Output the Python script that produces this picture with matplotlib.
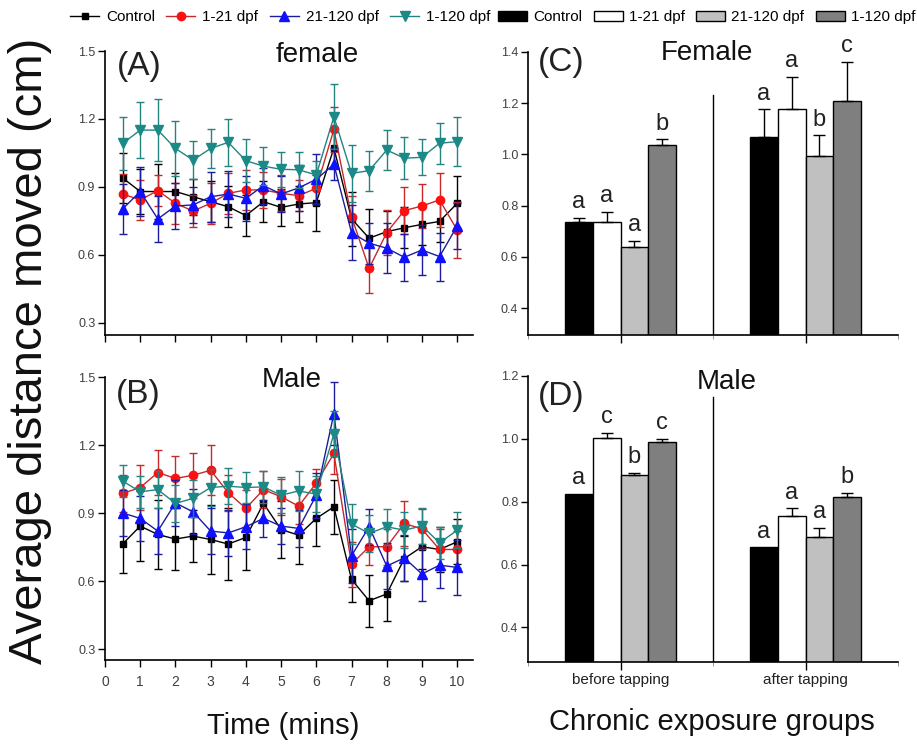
import matplotlib
matplotlib.use("Agg")
import matplotlib.pyplot as plt
from matplotlib.lines import Line2D
from matplotlib.patches import Patch
import numpy as np

plt.rcParams['font.family'] = ['Liberation Sans', 'DejaVu Sans']

# ---------------- data ----------------
time = [0.5, 1, 1.5, 2, 2.5, 3, 3.5, 4, 4.5, 5, 5.5, 6, 6.5, 7, 7.5, 8, 8.5, 9, 9.5, 10]
series_names = ["Control", "1-21 dpf", "21-120 dpf", "1-120 dpf"]

A_ctrl = [0.94, 0.88, 0.88, 0.88, 0.857, 0.835, 0.813, 0.774, 0.835, 0.81, 0.825, 0.831, 1.072, 0.76, 0.674, 0.703, 0.72, 0.735, 0.748, 0.828]
A_ctrl_err = [0.11, 0.1, 0.12, 0.08, 0.08, 0.09, 0.09, 0.09, 0.09, 0.08, 0.08, 0.123, 0.09, 0.12, 0.128, 0.09, 0.09, 0.09, 0.09, 0.12]
A_d121 = [0.869, 0.843, 0.884, 0.828, 0.794, 0.828, 0.872, 0.887, 0.887, 0.872, 0.862, 0.894, 1.154, 0.769, 0.541, 0.699, 0.796, 0.816, 0.843, 0.71]
A_d121_err = [0.09, 0.09, 0.07, 0.09, 0.07, 0.09, 0.09, 0.09, 0.08, 0.08, 0.07, 0.07, 0.1, 0.09, 0.107, 0.1, 0.103, 0.096, 0.12, 0.125]
A_d21120 = [0.803, 0.88, 0.759, 0.816, 0.821, 0.857, 0.869, 0.85, 0.906, 0.869, 0.896, 0.934, 1.0, 0.699, 0.652, 0.63, 0.59, 0.622, 0.593, 0.728]
A_d21120_err = [0.11, 0.11, 0.1, 0.1, 0.08, 0.11, 0.1, 0.1, 0.08, 0.08, 0.1, 0.11, 0.07, 0.12, 0.09, 0.11, 0.103, 0.11, 0.106, 0.1]
A_d1120 = [1.092, 1.151, 1.151, 1.07, 1.019, 1.07, 1.097, 1.016, 0.992, 0.978, 0.976, 0.953, 1.21, 0.96, 0.972, 1.063, 1.027, 1.031, 1.093, 1.1]
A_d1120_err = [0.115, 0.125, 0.136, 0.12, 0.085, 0.085, 0.105, 0.095, 0.085, 0.078, 0.08, 0.06, 0.144, 0.125, 0.088, 0.09, 0.093, 0.08, 0.091, 0.107]

B_ctrl = [0.764, 0.843, 0.806, 0.786, 0.799, 0.784, 0.764, 0.793, 0.943, 0.828, 0.803, 0.877, 0.928, 0.608, 0.514, 0.544, 0.70, 0.752, 0.74, 0.774]
B_ctrl_err = [0.126, 0.153, 0.154, 0.135, 0.114, 0.153, 0.16, 0.142, 0.08, 0.125, 0.128, 0.12, 0.12, 0.1, 0.115, 0.12, 0.1, 0.1, 0.1, 0.1]
B_d121 = [0.987, 1.013, 1.079, 1.053, 1.067, 1.089, 0.99, 0.921, 1.004, 0.972, 0.931, 1.033, 1.163, 0.675, 0.752, 0.752, 0.855, 0.83, 0.74, 0.74]
B_d121_err = [0.08, 0.1, 0.1, 0.1, 0.1, 0.11, 0.08, 0.08, 0.08, 0.08, 0.08, 0.06, 0.09, 0.1, 0.08, 0.08, 0.1, 0.09, 0.09, 0.08]
B_d21120 = [0.901, 0.877, 0.821, 0.945, 0.906, 0.821, 0.813, 0.84, 0.877, 0.843, 0.833, 0.979, 1.339, 0.712, 0.84, 0.667, 0.703, 0.632, 0.671, 0.661]
B_d21120_err = [0.1, 0.1, 0.1, 0.1, 0.1, 0.1, 0.1, 0.1, 0.08, 0.08, 0.08, 0.1, 0.14, 0.12, 0.08, 0.1, 0.1, 0.12, 0.1, 0.12]
B_d1120 = [1.042, 0.994, 1.004, 0.943, 0.965, 1.013, 1.019, 1.013, 1.016, 0.979, 0.998, 0.984, 1.25, 0.852, 0.811, 0.84, 0.825, 0.844, 0.769, 0.825]
B_d1120_err = [0.07, 0.07, 0.08, 0.08, 0.08, 0.08, 0.08, 0.07, 0.07, 0.08, 0.09, 0.08, 0.1, 0.09, 0.08, 0.08, 0.08, 0.08, 0.07, 0.08]

phases = ["before tapping", "after tapping"]
C_means = {"before tapping": [0.735, 0.735, 0.640, 1.036], "after tapping": [1.069, 1.175, 0.994, 1.209]}
C_errs = {"before tapping": [0.018, 0.04, 0.022, 0.022], "after tapping": [0.106, 0.128, 0.08, 0.152]}
C_letters = {"before tapping": ["a", "a", "a", "b"], "after tapping": ["a", "a", "b", "c"]}
D_means = {"before tapping": [0.824, 1.004, 0.884, 0.991], "after tapping": [0.655, 0.754, 0.689, 0.816]}
D_errs = {"before tapping": [0.0, 0.014, 0.008, 0.008], "after tapping": [0.0, 0.025, 0.028, 0.013]}
D_letters = {"before tapping": ["a", "c", "b", "c"], "after tapping": ["a", "a", "a", "b"]}

# ---------------- styles ----------------
line_colors = ["#000000", "#c42a2a", "#1c1c9c", "#24837f"]
marker_colors = ["#000000", "#ff1010", "#1010ff", "#1b8a86"]
markers = ["s", "o", "^", "v"]
msizes = [5, 6, 6.5, 6.5]
bar_colors = ["#000000", "#ffffff", "#c0c0c0", "#7f7f7f"]
tick_col = "#404040"

W, H = 917, 745
fig = plt.figure(figsize=(W / 100, H / 100), dpi=100)


def ax_rect(l, r, t, b):
    return [l / W, 1 - b / H, (r - l) / W, (b - t) / H]


def style_axes(ax):
    for s in ["top", "right"]:
        ax.spines[s].set_visible(False)
    for s in ["left", "bottom"]:
        ax.spines[s].set_linewidth(1.2)
    ax.tick_params(axis="both", direction="out", length=5, width=1.0,
                   labelsize=9, labelcolor=tick_col, pad=2)


def line_panel(ax, data, ylim, show_xlabels):
    for i, (vals, errs) in enumerate(data):
        ax.errorbar(time, vals, yerr=errs, color=line_colors[i], lw=1.0,
                    elinewidth=1.0, capsize=3, capthick=1.0,
                    marker=markers[i], ms=msizes[i], mfc=marker_colors[i],
                    mec=marker_colors[i], zorder=2 + i)
    ax.set_xlim(0, 10.45)
    ax.set_ylim(*ylim)
    ax.set_yticks([0.3, 0.6, 0.9, 1.2, 1.5])
    ax.set_yticklabels(["0.3", "0.6", "0.9", "1.2", "1.5"])
    ax.set_xticks(range(0, 11))
    if not show_xlabels:
        ax.set_xticklabels([])
    style_axes(ax)
    ax.tick_params(axis="x", labelsize=10, pad=6)


axA = fig.add_axes(ax_rect(105, 473, 51, 335))
line_panel(axA, [(A_ctrl, A_ctrl_err), (A_d121, A_d121_err),
                 (A_d21120, A_d21120_err), (A_d1120, A_d1120_err)], (0.247, 1.5), False)
axB = fig.add_axes(ax_rect(105, 473, 377, 660))
line_panel(axB, [(B_ctrl, B_ctrl_err), (B_d121, B_d121_err),
                 (B_d21120, B_d21120_err), (B_d1120, B_d1120_err)], (0.253, 1.5), True)


def bar_panel(ax, means, errs, letters, ylim, yticks, sep_top, show_xlabels):
    width = 0.15
    offs = [-1.5, -0.5, 0.5, 1.5]
    centers = [0.5, 1.5]
    for g, ph in enumerate(phases):
        for k in range(4):
            x = centers[g] + offs[k] * width
            ax.bar(x, means[ph][k], width=width, color=bar_colors[k],
                   edgecolor="black", linewidth=1.0, zorder=2)
            e = errs[ph][k]
            if e > 0:
                ax.errorbar(x, means[ph][k], yerr=[[0], [e]], color="black",
                            lw=1.0, capsize=4, capthick=1.0, fmt="none", zorder=3)
            ax.annotate(letters[ph][k], (x, means[ph][k] + e), xytext=(0, 7),
                        textcoords="offset points", ha="center", va="baseline",
                        fontsize=17, color="#222222")
    ax.plot([1, 1], [ylim[0], sep_top], color="black", lw=1.0, zorder=1)
    ax.set_xlim(0, 2)
    ax.set_ylim(*ylim)
    ax.set_yticks(yticks)
    ax.set_yticklabels([f"{v:.1f}" for v in yticks])
    ax.set_xticks(centers)
    ax.set_xticks([0, 1, 2], minor=True)
    style_axes(ax)
    ax.tick_params(axis="x", which="minor", length=3, width=0.6, color="#888888")
    ax.tick_params(axis="x", which="major", length=6)
    if show_xlabels:
        ax.set_xticklabels(phases, fontsize=11, color="#222222")
    else:
        ax.set_xticklabels([])


axC = fig.add_axes(ax_rect(528, 898, 51.7, 335))
bar_panel(axC, C_means, C_errs, C_letters, (0.296, 1.4), [0.4, 0.6, 0.8, 1.0, 1.2, 1.4], 1.231, False)
axD = fig.add_axes(ax_rect(528, 898, 376, 661.7))
bar_panel(axD, D_means, D_errs, D_letters, (0.291, 1.2), [0.4, 0.6, 0.8, 1.0, 1.2], 1.134, True)

# ---------------- panel texts ----------------
def ftext(x, y, s, size, **kw):
    fig.text(x / W, 1 - y / H, s, fontsize=size, ha="center", va="center", **kw)

ftext(139, 67, "(A)", 24, color="#222222")
ftext(317, 55, "female", 20, color="#111111")
ftext(138, 394, "(B)", 24, color="#222222")
ftext(292, 380, "Male", 20, color="#111111")
ftext(561, 63, "(C)", 24, color="#222222")
ftext(707, 53, "Female", 20, color="#111111")
ftext(561, 397, "(D)", 24, color="#222222")
ftext(727, 382, "Male", 20, color="#111111")

ftext(30, 351, "Average distance moved (cm)", 34, rotation=90, color="#111111")
ftext(283, 726, "Time (mins)", 21, color="#111111")
ftext(712, 722, "Chronic exposure groups", 21, color="#111111")

# ---------------- legends ----------------
line_handles = [Line2D([0], [0], color=line_colors[i], lw=1.0, marker=markers[i],
                       ms=msizes[i], mfc=marker_colors[i], mec=marker_colors[i])
                for i in range(4)]
fig.legend(line_handles, series_names, loc="center left",
           bbox_to_anchor=(70 / W, 1 - 17 / H), ncol=4, frameon=False,
           fontsize=11, handlelength=1.9, handletextpad=0.45,
           columnspacing=0.75, borderpad=0, borderaxespad=0)

bar_handles = [Patch(facecolor=bar_colors[i], edgecolor="black", linewidth=1.0) for i in range(4)]
fig.legend(bar_handles, series_names, loc="center left",
           bbox_to_anchor=(498 / W, 1 - 17 / H), ncol=4, frameon=False,
           fontsize=11, handlelength=1.9, handleheight=0.65, handletextpad=0.4,
           columnspacing=0.75, borderpad=0, borderaxespad=0)

fig.savefig("out.png", dpi=100)
